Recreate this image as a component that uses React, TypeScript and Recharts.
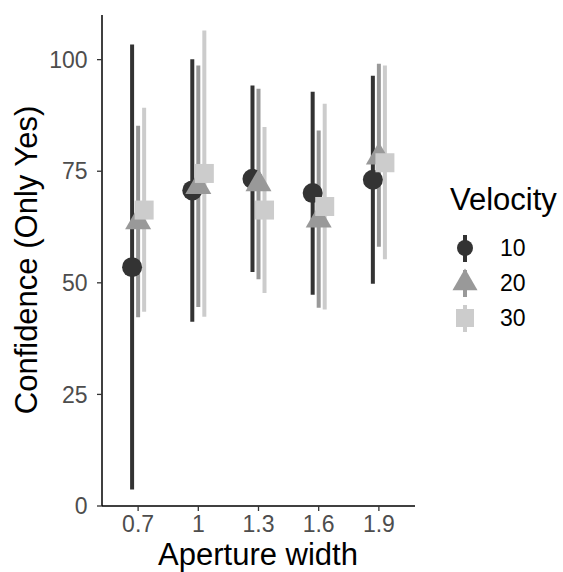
import React from 'react';
import { ComposedChart, Scatter, XAxis, YAxis, ErrorBar, Label } from 'recharts';

const apertures = ['0.7', '1', '1.3', '1.6', '1.9'];
const velocities = ['10', '20', '30'];

const v10Mean = [53.5, 70.7, 73.3, 70.1, 73.1];
const v10Low = [3.7, 41.3, 52.4, 47.3, 49.8];
const v10High = [103.4, 100.1, 94.2, 92.8, 96.4];

const v20Mean = [63.7, 71.6, 72.2, 64.1, 78.2];
const v20Low = [42.3, 44.6, 50.8, 44.4, 58.1];
const v20High = [85.2, 98.7, 93.5, 84.1, 99.1];

const v30Mean = [66.3, 74.5, 66.3, 67.1, 76.9];
const v30Low = [43.5, 42.4, 47.7, 44.0, 55.3];
const v30High = [89.2, 106.5, 84.9, 90.1, 98.7];

const yTicks = [0, 25, 50, 75, 100];

const colors = ['#333333', '#999999', '#cccccc'];
const FONT = '"Liberation Sans", Arial, Helvetica, sans-serif';
const TICK_FS = 23;
const TITLE_FS = 31;

const dodge = [-0.1, 0, 0.1];

function build(mean: number[], low: number[], high: number[], k: number) {
  return mean.map((m, i) => ({
    x: i + 1 + dodge[k],
    y: m,
    err: [m - low[i], high[i] - m],
  }));
}

const series = [
  build(v10Mean, v10Low, v10High, 0),
  build(v20Mean, v20Low, v20High, 1),
  build(v30Mean, v30Low, v30High, 2),
];

const Circle = (props: any) => {
  const { cx, cy } = props;
  return <circle cx={cx} cy={cy} r={10} fill={colors[0]} />;
};
const triPoints = (cx: number, cy: number, s: number) =>
  `${cx},${cy - 1.555 * s} ${cx + 1.347 * s},${cy + 0.778 * s} ${cx - 1.347 * s},${cy + 0.778 * s}`;
const Triangle = (props: any) => {
  const { cx, cy } = props;
  return <polygon points={triPoints(cx, cy, 9.65)} fill={colors[1]} />;
};
const Square = (props: any) => {
  const { cx, cy } = props;
  return <rect x={cx - 9.5} y={cy - 9.5} width={19} height={19} fill={colors[2]} />;
};
const Empty = () => <g />;

const shapes = [Circle, Triangle, Square];

const legendY = [248, 283, 318];

export default function App() {
  return (
    <div style={{ position: 'absolute', left: 0, top: 0, width: 563, height: 572, background: '#fff', fontFamily: FONT }}>
      <ComposedChart width={563} height={572} margin={{ top: 15, right: 148, bottom: 6, left: 22 }}>
        <XAxis
          type="number"
          dataKey="x"
          domain={[0.4, 5.6]}
          ticks={[1, 2, 3, 4, 5]}
          allowDataOverflow
          tickFormatter={(v: number) => apertures[Math.round(v) - 1]}
          height={60}
          axisLine={{ stroke: '#000', strokeWidth: 1.5 }}
          tickLine={{ stroke: '#333', strokeWidth: 1.3 }}
          tickSize={5}
          tickMargin={5}
          tick={{ fill: '#4d4d4d', fontSize: TICK_FS, fontFamily: FONT }}
        >
          <Label
            content={() => (
              <text x={258} y={564.5} textAnchor="middle" fontSize={TITLE_FS} fontFamily={FONT} fill="#000">
                Aperture width
              </text>
            )}
          />
        </XAxis>
        <YAxis
          type="number"
          dataKey="y"
          domain={[0, 110]}
          ticks={yTicks}
          allowDataOverflow
          width={80}
          axisLine={{ stroke: '#000', strokeWidth: 1.5 }}
          tickLine={{ stroke: '#333', strokeWidth: 1.3 }}
          tickSize={5}
          tickMargin={9.5}
          tick={{ fill: '#4d4d4d', fontSize: TICK_FS, fontFamily: FONT }}
        >
          <Label
            content={() => (
              <text
                x={36.5}
                y={260}
                textAnchor="middle"
                fontSize={TITLE_FS}
                fontFamily={FONT}
                fill="#000"
                transform="rotate(-90, 36.5, 260)"
              >
                Confidence (Only Yes)
              </text>
            )}
          />
        </YAxis>
        {series.map((d, k) => (
          <Scatter key={`r${k}`} data={d} dataKey="y" shape={Empty} isAnimationActive={false} legendType="none">
            <ErrorBar dataKey="err" direction="y" width={0} strokeWidth={4} stroke={colors[k]} />
          </Scatter>
        ))}
        {series.map((d, k) => (
          <Scatter key={`p${k}`} data={d} dataKey="y" shape={shapes[k]} isAnimationActive={false} />
        ))}
      </ComposedChart>
      <svg
        width={563}
        height={572}
        style={{ position: 'absolute', left: 0, top: 0, pointerEvents: 'none' }}
      >
        <text x={450} y={209.5} fontSize={TITLE_FS} fontFamily={FONT} fill="#000">
          Velocity
        </text>
        {velocities.map((v, k) => {
          const cy = legendY[k];
          const cx = 465;
          const c = colors[k];
          return (
            <g key={v}>
              <line x1={cx} y1={cy - 13} x2={cx} y2={cy + 14} stroke={c} strokeWidth={4} />
              {k === 0 && <circle cx={cx} cy={cy} r={8} fill={c} />}
              {k === 1 && <polygon points={triPoints(cx, cy, 9.3)} fill={c} />}
              {k === 2 && <rect x={cx - 9} y={cy - 9} width={18} height={18} fill={c} />}
              <text x={500} y={cy + 8.2} fontSize={TICK_FS} fontFamily={FONT} fill="#000">
                {v}
              </text>
            </g>
          );
        })}
      </svg>
    </div>
  );
}
